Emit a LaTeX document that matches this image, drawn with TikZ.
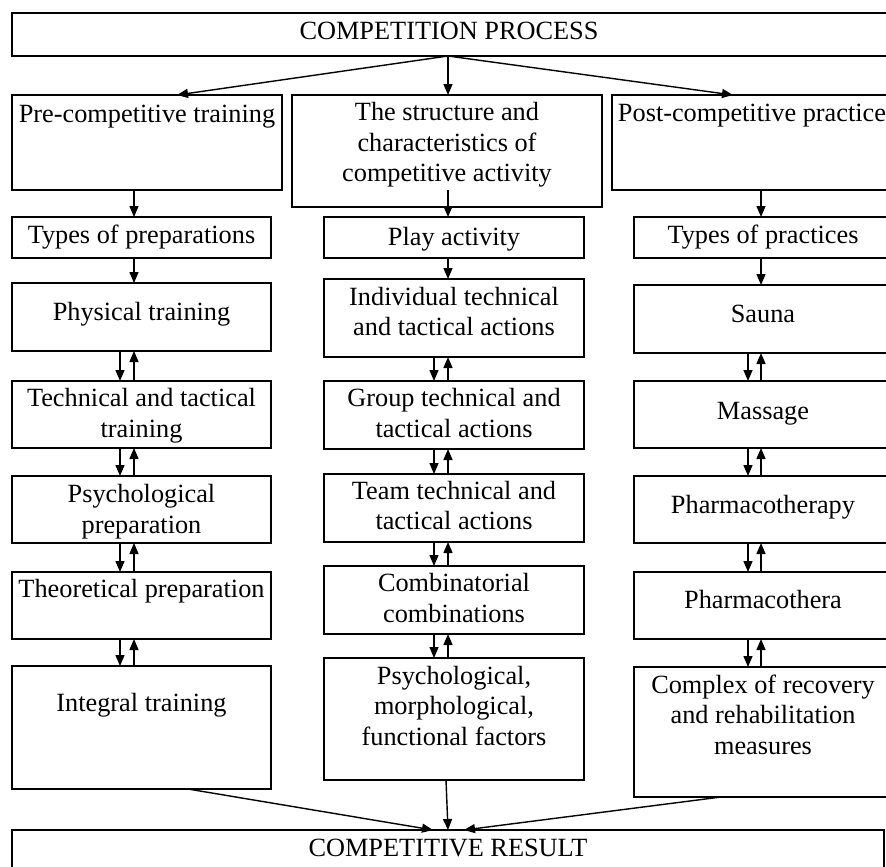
\documentclass[tikz,border=0pt]{standalone}
\usepackage{fontspec}
\setmainfont{Liberation Serif}
\usetikzlibrary{arrows.meta}
\tikzset{
  bx/.style={draw=black, line width=1.4pt, rectangle, inner sep=0pt, outer sep=0pt},
  txt/.style={align=center, inner sep=0pt, outer sep=0pt, font=\fontsize{26.3}{30.5}\selectfont},
  arr/.style={line width=1.4pt, -{Triangle[length=11pt,width=9pt]}}
}
\newcommand\boxat[5]{\node[bx, minimum width={(#4)-(#2)}, minimum height={(#5)-(#3)}] (#1) at ({((#2)+(#4))/2},{((#3)+(#5))/2}) {};}
\newcommand\lbl[4]{\node[txt, anchor=north] (#1) at (#2,{(#3)-21.35}) {\strut #4};}
\newcommand\dbl[4]{%
  \draw[arr] ([xshift=#3pt]#1.south west) -- ([xshift=#3pt]#2.north west);
  \draw[arr] ([xshift=#4pt]#2.north west) -- ([xshift=#4pt]#1.south west);}
\begin{document}
\begin{tikzpicture}[x=1pt, y=-1pt]
\useasboundingbox (0,0) rectangle (886,867);
\clip (0,0) rectangle (886,867);
\fill[white] (0,0) rectangle (886,867);
% boxes
\boxat{top}{12}{13}{890}{56}
\boxat{pre}{12}{95}{282}{190}
\boxat{struct}{292}{95}{602}{207}
\boxat{post}{612}{95}{892}{190}
\boxat{tprep}{12}{217}{271}{258}
\boxat{play}{324}{217}{584}{258}
\boxat{tprac}{634}{217}{892}{258}
\boxat{phys}{12}{283}{271}{351}
\boxat{indiv}{324}{279}{584}{357}
\boxat{sauna}{634}{285}{892}{353}
\boxat{tech}{12}{381}{271}{448}
\boxat{group}{324}{381}{584}{449}
\boxat{massage}{634}{381}{892}{448}
\boxat{psyprep}{12}{476}{271}{543}
\boxat{team}{324}{474}{584}{542}
\boxat{pharmA}{634}{476}{892}{543}
\boxat{theor}{12}{572}{271}{639}
\boxat{comb}{324}{566}{584}{634}
\boxat{pharmB}{634}{572}{892}{639}
\boxat{integ}{12}{666}{271}{789}
\boxat{psym}{324}{658}{584}{780}
\boxat{complex}{634}{667}{892}{797}
\boxat{result}{12}{830}{884}{873}
% texts
\lbl{top-t}{449}{39.3}{COMPETITION PROCESS}
\lbl{pre-t}{147}{122.7}{Pre-competitive training}
\lbl{struct-t}{447}{120.7}{The structure and\\characteristics of\\competitive activity}
\lbl{post-t}{752}{121.7}{Post-competitive practice}
\lbl{tprep-t}{141.5}{243.3}{Types of preparations}
\lbl{play-t}{454}{245}{Play activity}
\lbl{tprac-t}{763}{243}{Types of practices}
\lbl{phys-t}{141.5}{320.7}{Physical training}
\lbl{indiv-t}{454}{305}{Individual technical\\and tactical actions}
\lbl{sauna-t}{763}{322}{Sauna}
\lbl{tech-t}{141.5}{406.7}{Technical and tactical\\training}
\lbl{group-t}{454}{406.7}{Group technical and\\tactical actions}
\lbl{massage-t}{763}{419}{Massage}
\lbl{psyprep-t}{141.5}{502.7}{Psychological\\preparation}
\lbl{team-t}{454}{499.3}{Team technical and\\tactical actions}
\lbl{pharmA-t}{763}{513.3}{Pharmacotherapy}
\lbl{theor-t}{141.5}{597.3}{Theoretical preparation}
\lbl{comb-t}{454}{591.7}{Combinatorial\\combinations}
\lbl{pharmB-t}{763}{608.3}{Pharmacothera}
\lbl{integ-t}{141.5}{711}{Integral training}
\lbl{psym-t}{454}{684}{Psychological,\\morphological,\\functional factors}
\lbl{complex-t}{763}{693}{Complex of recovery\\and rehabilitation\\measures}
\lbl{result-t}{448}{856.7}{COMPETITIVE RESULT}
% connectors from top
\draw[arr] ([xshift=436pt]top.south west) -- ([xshift=165pt]pre.north west);
\draw[arr] ([xshift=436pt]top.south west) -- ([xshift=156pt]struct.north west);
\draw[arr] ([xshift=436pt]top.south west) -- ([xshift=121pt]post.north west);
% single arrows
\draw[arr] ([xshift=122pt]pre.south west) -- ([xshift=122pt]tprep.north west);
\draw[arr] ([xshift=122pt]tprep.south west) -- ([xshift=122pt]phys.north west);
\draw[arr] ([xshift=156pt,yshift=17pt]struct.south west) -- ([xshift=124pt]play.north west);
\draw[arr] ([xshift=124pt]play.south west) -- ([xshift=124pt]indiv.north west);
\draw[arr] ([xshift=149pt]post.south west) -- ([xshift=127pt]tprac.north west);
\draw[arr] ([xshift=127pt]tprac.south west) -- ([xshift=127pt]sauna.north west);
% double arrows
\dbl{phys}{tech}{108}{122}
\dbl{tech}{psyprep}{108}{122}
\dbl{psyprep}{theor}{108}{122}
\dbl{theor}{integ}{108}{122}
\dbl{indiv}{group}{110}{124}
\dbl{group}{team}{110}{124}
\dbl{team}{comb}{110}{124}
\dbl{comb}{psym}{110}{124}
\dbl{sauna}{massage}{114}{127}
\dbl{massage}{pharmA}{114}{127}
\dbl{pharmA}{pharmB}{114}{127}
\dbl{pharmB}{complex}{114}{127}
% to result
\draw[arr] ([xshift=176pt]integ.south west) -- ([xshift=421pt]result.north west);
\draw[arr] ([xshift=122pt]psym.south west) -- ([xshift=436pt]result.north west);
\draw[arr] ([xshift=87pt]complex.south west) -- ([xshift=452pt]result.north west);
\end{tikzpicture}
\end{document}
